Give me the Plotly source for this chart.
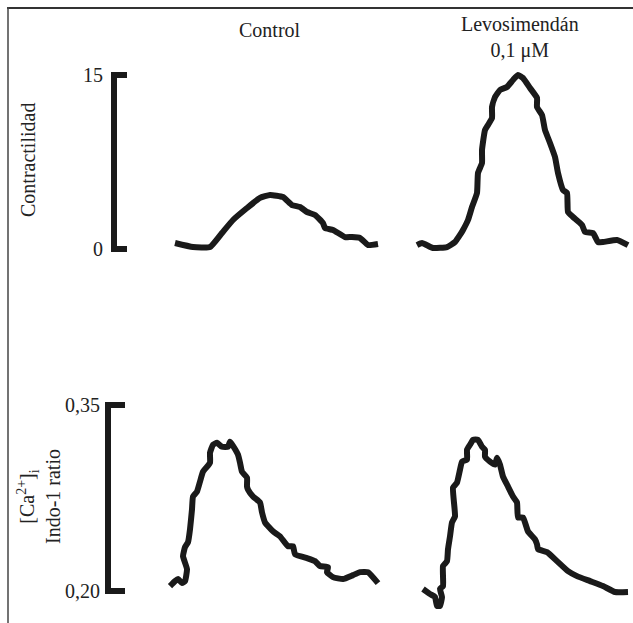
import plotly.graph_objects as go

# ---------------- data ----------------
# time (ms) and values for each trace
ctrl_top_t = [75, 165, 250, 310, 365, 435, 500, 550, 615, 660, 700, 735, 775, 815, 825, 865, 925, 960, 1000, 1040, 1090]
ctrl_top_v = [0.52, 0.17, 0.17, 1.38, 2.50, 3.53, 4.40, 4.66, 4.48, 3.79, 3.62, 3.19, 2.93, 2.24, 1.81, 1.64, 1.03, 1.03, 0.95, 0.34, 0.43]

levo_top_t = [60, 85, 140, 210, 250, 275, 290, 315, 335, 360, 365, 385, 385, 400, 415, 435, 435, 450, 475, 510, 540,
              565, 590, 625, 660, 660, 685, 700, 725, 750, 765, 790, 810, 815, 840, 885, 900, 940, 965, 990, 1060, 1115]
levo_top_v = [0.34, 0.52, 0.09, 0.17, 0.60, 1.21, 1.64, 2.50, 3.62, 4.83, 6.55, 7.41, 8.53, 10.26, 10.69, 11.29, 12.24,
              13.10, 13.71, 13.97, 14.57, 15.00, 14.74, 13.88, 13.02, 12.24, 11.55, 10.26, 9.14, 7.93, 6.55, 5.09, 4.83,
              3.19, 2.76, 2.07, 1.47, 1.38, 0.60, 0.60, 0.78, 0.34]

ctrl_bot_t = [50, 75, 90, 110, 125, 135, 115, 125, 140, 150, 160, 165, 185, 200, 215, 250, 250, 265, 285, 310, 340, 350,
              365, 390, 400, 410, 435, 435, 440, 465, 500, 510, 525, 565, 600, 640, 665, 675, 735, 775, 800, 840, 835,
              865, 915, 965, 1000, 1040, 1090]
ctrl_bot_v = [0.2040, 0.2080, 0.2096, 0.2064, 0.2080, 0.2176, 0.2281, 0.2353, 0.2393, 0.2497, 0.2658, 0.2762, 0.2802,
              0.2882, 0.2962, 0.3035, 0.3115, 0.3179, 0.3195, 0.3163, 0.3163, 0.3203, 0.3171, 0.3099, 0.3035, 0.2962,
              0.2914, 0.2842, 0.2818, 0.2762, 0.2714, 0.2634, 0.2553, 0.2481, 0.2441, 0.2361, 0.2361, 0.2297, 0.2265,
              0.2241, 0.2201, 0.2192, 0.2152, 0.2112, 0.2096, 0.2128, 0.2152, 0.2152, 0.2064]

levo_bot_t = [90, 125, 150, 160, 175, 185, 175, 190, 190, 210, 215, 225, 235, 250, 240, 260, 275, 285, 310, 310, 325, 340,
              365, 385, 400, 400, 425, 450, 460, 475, 490, 515, 540, 560, 565, 590, 615, 650, 660, 665, 710, 760, 815,
              860, 925, 990, 1050, 1115]
levo_bot_v = [0.2016, 0.1976, 0.1952, 0.1880, 0.1880, 0.1952, 0.2016, 0.2040, 0.2201, 0.2241, 0.2337, 0.2441, 0.2553,
              0.2602, 0.2834, 0.2874, 0.2978, 0.3043, 0.3059, 0.3139, 0.3179, 0.3219, 0.3219, 0.3163, 0.3139, 0.3083,
              0.3043, 0.3019, 0.3075, 0.3019, 0.2922, 0.2842, 0.2762, 0.2714, 0.2593, 0.2593, 0.2481, 0.2417, 0.2377,
              0.2337, 0.2313, 0.2241, 0.2160, 0.2120, 0.2080, 0.2040, 0.1992, 0.1992]

top_scale = [0, 15]
top_scale_labels = ["0", "15"]
bot_scale = [0.20, 0.35]
bot_scale_labels = ["0,20", "0,35"]

col_titles = ["Control", "Levosimendán<br>0,1 μM"]
top_ylabel = "Contractilidad"
bot_ylabel = "[Ca<sup>2+</sup>]<sub>i</sub><br>Indo-1 ratio"

# ---------------- layout helpers ----------------
W, H = 633, 623
def px_x(p):
    return p / W
def px_y(p):
    return 1 - p / H

INK = "#1a1a1a"
FONT = dict(family="Liberation Serif, Times New Roman, serif", size=20, color="#222")
LW = 6

fig = go.Figure()

def trace(t, v, xa, ya):
    fig.add_trace(go.Scatter(x=t, y=v, xaxis=xa, yaxis=ya, mode="lines",
                             line=dict(color=INK, width=LW, shape="spline", smoothing=0.4),
                             hoverinfo="skip", showlegend=False))

trace(ctrl_top_t, ctrl_top_v, "x", "y")
trace(levo_top_t, levo_top_v, "x2", "y")
trace(ctrl_bot_t, ctrl_bot_v, "x", "y2")
trace(levo_bot_t, levo_bot_v, "x2", "y2")

# scale bars (on a separate x axis x3), bracket shapes from the scale values
top_bar_x = [67, 54, 54, 67]
bot_bar_x = [65, 48, 48, 65]
fig.add_trace(go.Scatter(x=top_bar_x, y=[top_scale[1], top_scale[1], top_scale[0], top_scale[0]],
                         xaxis="x3", yaxis="y", mode="lines",
                         line=dict(color=INK, width=6), hoverinfo="skip", showlegend=False))
fig.add_trace(go.Scatter(x=bot_bar_x, y=[bot_scale[1], bot_scale[1], bot_scale[0], bot_scale[0]],
                         xaxis="x3", yaxis="y2", mode="lines",
                         line=dict(color=INK, width=6), hoverinfo="skip", showlegend=False))

annotations = []
for v, lab in zip(top_scale, top_scale_labels):
    annotations.append(dict(x=45, y=v, xref="x3", yref="y", text=lab, showarrow=False,
                            xanchor="right", yanchor="middle", font=FONT))
for v, lab in zip(bot_scale, bot_scale_labels):
    annotations.append(dict(x=42, y=v, xref="x3", yref="y2", text=lab, showarrow=False,
                            xanchor="right", yanchor="middle", font=FONT))

# column titles
annotations.append(dict(x=px_x(270), y=px_y(30), xref="paper", yref="paper", text=col_titles[0],
                        showarrow=False, xanchor="center", yanchor="middle", font=FONT))
annotations.append(dict(x=px_x(520), y=px_y(37), xref="paper", yref="paper", text=col_titles[1],
                        showarrow=False, xanchor="center", yanchor="middle", font=FONT))
# y labels
annotations.append(dict(x=px_x(28), y=px_y(160), xref="paper", yref="paper", text=top_ylabel,
                        showarrow=False, textangle=-90, xanchor="center", yanchor="middle", font=FONT))
annotations.append(dict(x=px_x(39), y=px_y(497), xref="paper", yref="paper", text=bot_ylabel,
                        showarrow=False, textangle=-90, xanchor="center", yanchor="middle", font=FONT))

hidden = dict(visible=False, showgrid=False, zeroline=False, fixedrange=True)

# top y: 15 -> px 75, 0 -> px 249
top_ppu = (249 - 75) / 15.0
top_range = [-1.5, 16.5]
top_dom = [px_y(249 + 1.5 * top_ppu), px_y(75 - 1.5 * top_ppu)]
# bottom y: 0.35 -> px 405, 0.20 -> px 591
bot_ppu = (591 - 405) / 0.15
bot_range = [0.18, 0.37]
bot_dom = [px_y(591 + 0.02 * bot_ppu), px_y(405 - 0.02 * bot_ppu)]

fig.update_layout(
    width=W, height=H,
    margin=dict(l=0, r=0, t=0, b=0),
    paper_bgcolor="white", plot_bgcolor="rgba(0,0,0,0)",
    xaxis=dict(domain=[px_x(160), px_x(390)], range=[0, 1150], anchor="y", **hidden),
    xaxis2=dict(domain=[px_x(405), px_x(633)], range=[0, 1140], anchor="y", **hidden),
    xaxis3=dict(domain=[px_x(60), px_x(140)], range=[0, 80], anchor="y", **hidden),
    yaxis=dict(domain=top_dom, range=top_range, anchor="x", **hidden),
    yaxis2=dict(domain=bot_dom, range=bot_range, anchor="x", **hidden),
    annotations=annotations,
    shapes=[
        dict(type="line", xref="paper", yref="paper", x0=px_x(7), x1=1, y0=px_y(8), y1=px_y(8),
             line=dict(color="#333", width=2)),
        dict(type="line", xref="paper", yref="paper", x0=px_x(8), x1=px_x(8), y0=px_y(7), y1=0,
             line=dict(color="#444", width=1.5)),
    ],
)

fig.write_html("out.html")
